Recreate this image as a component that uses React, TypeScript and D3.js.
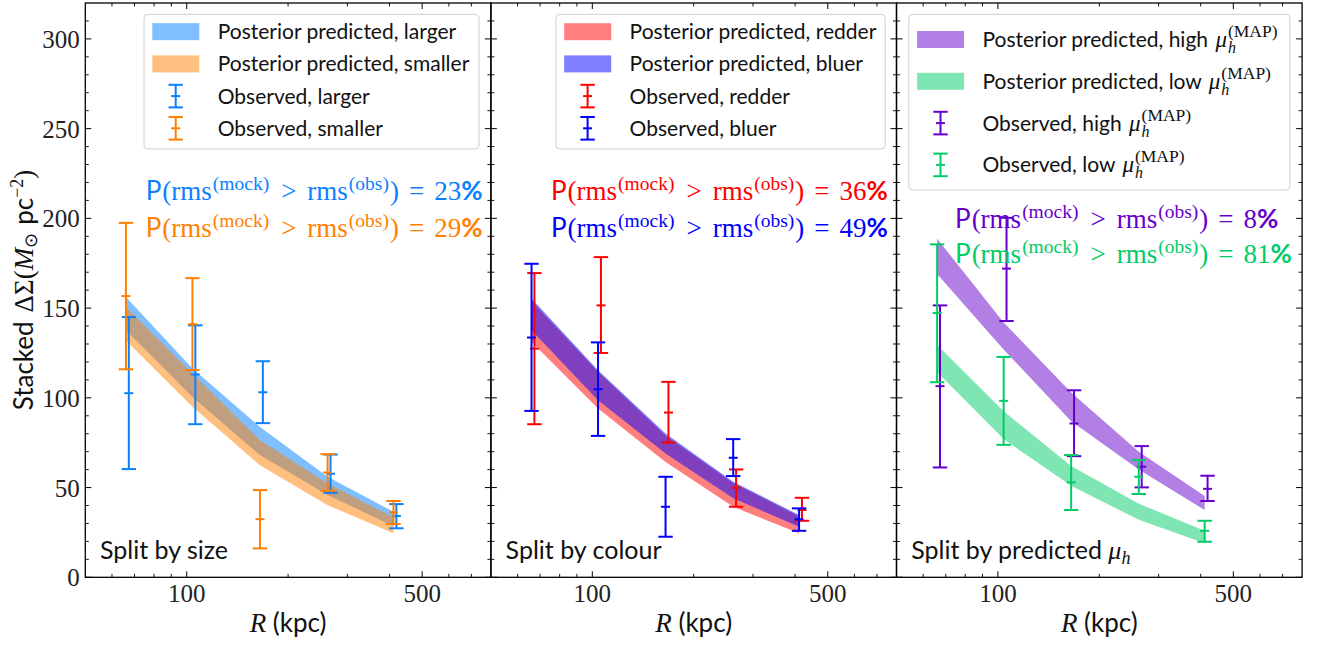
import React from 'react';
import * as d3 from 'd3';

// ---------- data ----------
const R_BINS = [66, 104, 165, 262, 411];
const SHIFT = 1.02; // small horizontal offset applied to the first observed series of each panel

const X_MAJOR = [100, 500];
const X_MINOR = [60, 70, 80, 90, 200, 300, 400, 600, 700];
const Y_MAJOR = [0, 50, 100, 150, 200, 250, 300];
const Y_MINOR = [10, 20, 30, 40, 60, 70, 80, 90, 110, 120, 130, 140, 160, 170, 180, 190, 210, 220, 230, 240, 260, 270, 280, 290, 310];

// Panel 1: split by size
const largerBandHi = [156.2, 116.3, 83.8, 56.0, 36.5];
const largerBandLo = [137.6, 100.5, 68.1, 45.8, 28.5];
const smallerBandHi = [150.6, 113.5, 76.4, 52.3, 33.4];
const smallerBandLo = [132.0, 95.0, 62.5, 40.2, 24.5];
const largerObs = [102.6, 113.0, 103.1, 57.7, 34.1];
const largerObsLo = [60.3, 85.3, 85.9, 47.1, 27.3];
const largerObsHi = [145.0, 140.4, 120.4, 68.4, 40.8];
const smallerObs = [156.7, 141.0, 32.4, 58.4, 36.2];
const smallerObsLo = [115.9, 115.5, 16.1, 48.2, 29.7];
const smallerObsHi = [197.5, 166.7, 48.6, 68.6, 42.5];

// Panel 2: split by colour
const redderBandHi = [154.0, 114.5, 79.0, 52.5, 34.0];
const redderBandLo = [131.1, 94.0, 64.3, 39.3, 24.5];
const bluerBandHi = [155.3, 115.4, 80.1, 53.2, 34.7];
const bluerBandLo = [137.6, 98.7, 69.0, 44.0, 28.2];
const redderObs = [127.4, 151.5, 91.8, 49.9, 37.5];
const redderObsLo = [85.3, 125.0, 75.1, 39.3, 31.5];
const redderObsHi = [169.5, 178.4, 108.9, 60.1, 44.3];
const bluerObs = [133.6, 104.8, 39.3, 66.6, 32.3];
const bluerObsLo = [92.7, 78.8, 22.6, 56.4, 25.9];
const bluerObsHi = [174.7, 130.9, 56.0, 77.0, 38.4];

// Panel 3: split by predicted mu_h
const highBandHi = [188.7, 142.0, 103.0, 70.0, 45.3];
const highBandLo = [169.0, 127.0, 87.0, 60.0, 37.5];
const lowBandHi = [129.5, 92.5, 62.0, 41.0, 26.0];
const lowBandLo = [114.4, 77.0, 51.0, 32.0, 19.0];
const highObs = [106.5, 172.0, 85.7, 61.6, 49.3];
const highObsLo = [61.2, 142.8, 67.5, 50.1, 42.5];
const highObsHi = [151.5, 200.3, 104.2, 73.1, 56.6];
const lowObs = [147.3, 98.3, 52.9, 56.0, 25.9];
const lowObsLo = [108.7, 73.8, 37.5, 46.4, 19.8];
const lowObsHi = [185.5, 122.8, 68.1, 65.3, 31.5];

const PROB = [[23, 29], [36, 49], [8, 81]];

// ---------- layout ----------
const W = 1322, H = 648;
const PANEL_W = 405.6;
const PANEL_LEFTS = [85.3, 490.9, 896.5];
const TOP = 3, BOTTOM = 577.3;
const SANS = 'Lato';
const SERIF = 'Liberation Serif';

const x = d3.scaleLog().domain([50, 800]).range([0, PANEL_W]);
const y = d3.scaleLinear().domain([0, 320]).range([BOTTOM, TOP]);

type Series = { color: string; label: any; mid: number[]; lo: number[]; hi: number[]; shift: number };
type Band = { color: string; label: any; lo: number[]; hi: number[] };

const muLabel = (prefix: string) => (
  <>
    <tspan>{prefix}</tspan>
    <tspan fontFamily={SERIF} fontStyle="italic" fontSize={23} dx={2}>μ</tspan>
    <tspan fontFamily={SERIF} fontStyle="italic" fontSize={16} dy={6} dx={1}>h</tspan>
    <tspan fontFamily={SERIF} fontSize={17.5} dx={-8} dy={-16}>(MAP)</tspan>
  </>
);

const panels = [
  {
    bands: [
      { color: '#0080ff', label: 'Posterior predicted, larger', lo: largerBandLo, hi: largerBandHi },
      { color: '#ff8000', label: 'Posterior predicted, smaller', lo: smallerBandLo, hi: smallerBandHi },
    ] as Band[],
    series: [
      { color: '#0a80ff', label: 'Observed, larger', mid: largerObs, lo: largerObsLo, hi: largerObsHi, shift: SHIFT },
      { color: '#ff8000', label: 'Observed, smaller', mid: smallerObs, lo: smallerObsLo, hi: smallerObsHi, shift: 1 },
    ] as Series[],
    title: <tspan>Split by size</tspan>,
    legend: { left: 58.7, width: 335, rowTop: 31.7, rowGap: 32.2, height: 134.7 },
    prob: { x: 60.4, y1: 200, y2: 236.7 },
  },
  {
    bands: [
      { color: '#ff0000', label: 'Posterior predicted, redder', lo: redderBandLo, hi: redderBandHi },
      { color: '#0000ff', label: 'Posterior predicted, bluer', lo: bluerBandLo, hi: bluerBandHi },
    ] as Band[],
    series: [
      { color: '#ff0000', label: 'Observed, redder', mid: redderObs, lo: redderObsLo, hi: redderObsHi, shift: SHIFT },
      { color: '#0000ff', label: 'Observed, bluer', mid: bluerObs, lo: bluerObsLo, hi: bluerObsHi, shift: 1 },
    ] as Series[],
    title: <tspan>Split by colour</tspan>,
    legend: { left: 65, width: 329.3, rowTop: 31.7, rowGap: 32.2, height: 134.7 },
    prob: { x: 60.1, y1: 200, y2: 236.7 },
  },
  {
    bands: [
      { color: '#6600cc', label: muLabel('Posterior predicted, high '), lo: highBandLo, hi: highBandHi },
      { color: '#00cc66', label: muLabel('Posterior predicted, low '), lo: lowBandLo, hi: lowBandHi },
    ] as Band[],
    series: [
      { color: '#6600cc', label: muLabel('Observed, high '), mid: highObs, lo: highObsLo, hi: highObsHi, shift: SHIFT },
      { color: '#00cc66', label: muLabel('Observed, low '), mid: lowObs, lo: lowObsLo, hi: lowObsHi, shift: 1 },
    ] as Series[],
    title: (
      <>
        <tspan>Split by predicted </tspan>
        <tspan fontFamily={SERIF} fontStyle="italic" fontSize={26}>μ</tspan>
        <tspan fontFamily={SERIF} fontStyle="italic" fontSize={18} dy={5}>h</tspan>
      </>
    ),
    legend: { left: 12.3, width: 381, rowTop: 39.5, rowGap: 41.8, height: 175.7 },
    prob: { x: 58.5, y1: 228.3, y2: 263.3 },
  },
];

function ErrorBar({ cx, ylo, yhi, ymid, color }: { cx: number; ylo: number; yhi: number; ymid: number; color: string }) {
  const cap = 7.2, mk = 4.5;
  return (
    <g stroke={color} strokeWidth={2} fill="none">
      <line x1={cx} x2={cx} y1={ylo} y2={yhi} />
      <line x1={cx - cap} x2={cx + cap} y1={ylo} y2={ylo} />
      <line x1={cx - cap} x2={cx + cap} y1={yhi} y2={yhi} />
      <line x1={cx - mk} x2={cx + mk} y1={ymid} y2={ymid} />
    </g>
  );
}

function ProbLine({ px, py, color, pct }: { px: number; py: number; color: string; pct: number }) {
  return (
    <text x={px} y={py} fill={color} fontSize={27} fontFamily={SERIF}>
      <tspan fontFamily={SANS} fontSize={26}>P</tspan>
      <tspan fontFamily={SERIF} dx={1}>(rms</tspan>
      <tspan fontFamily={SERIF} fontSize={19.5} dy={-10} dx={1}>(mock)</tspan>
      <tspan fontFamily={SERIF} dy={10} dx={12}>&gt;</tspan>
      <tspan fontFamily={SERIF} dx={11}>rms</tspan>
      <tspan fontFamily={SERIF} fontSize={19.5} dy={-10} dx={1}>(obs)</tspan>
      <tspan fontFamily={SERIF} dy={10} dx={1}>)</tspan>
      <tspan fontFamily={SERIF} dx={10}>=</tspan>
      <tspan fontFamily={SERIF} dx={10}>{pct}</tspan>
      <tspan fontFamily={SANS} fontSize={26} fontWeight="bold">%</tspan>
    </text>
  );
}

function Panel({ idx }: { idx: number }) {
  const p = panels[idx];
  const left = PANEL_LEFTS[idx];
  const area = d3
    .area<number>()
    .x((_, i) => x(R_BINS[i]))
    .y0((d) => y(d));
  const lg = p.legend;
  const legendItems = [
    ...p.bands.map((b) => ({ kind: 'band', color: b.color, label: b.label })),
    ...p.series.map((s) => ({ kind: 'err', color: s.color, label: s.label })),
  ];
  return (
    <g transform={`translate(${left},0)`}>
      {p.bands.map((b, bi) => (
        <path
          key={'b' + bi}
          d={area.y1((_, i) => y(b.hi[i]))(b.lo) || ''}
          fill={b.color}
          fillOpacity={0.5}
        />
      ))}
      {p.series.map((s, si) => (
        <g key={'s' + si}>
          {R_BINS.map((r, i) => (
            <ErrorBar key={i} cx={x(r * s.shift)} ylo={y(s.lo[i])} yhi={y(s.hi[i])} ymid={y(s.mid[i])} color={s.color} />
          ))}
        </g>
      ))}
      <rect x={0} y={TOP} width={PANEL_W} height={BOTTOM - TOP} fill="none" stroke="#000" strokeWidth={1.3} />
      {X_MAJOR.map((t) => (
        <g key={'xm' + t}>
          <line x1={x(t)} x2={x(t)} y1={BOTTOM} y2={BOTTOM - 6} stroke="#000" strokeWidth={1} />
          <line x1={x(t)} x2={x(t)} y1={TOP} y2={TOP + 6} stroke="#000" strokeWidth={1} />
          <text x={x(t)} y={601.5} textAnchor="middle" fontFamily={SERIF} fontSize={25} fill="#222">
            {t}
          </text>
        </g>
      ))}
      {X_MINOR.map((t) => (
        <g key={'xn' + t}>
          <line x1={x(t)} x2={x(t)} y1={BOTTOM} y2={BOTTOM - 3.5} stroke="#000" strokeWidth={0.9} />
          <line x1={x(t)} x2={x(t)} y1={TOP} y2={TOP + 3.5} stroke="#000" strokeWidth={0.9} />
        </g>
      ))}
      {Y_MAJOR.map((t) => (
        <g key={'ym' + t}>
          <line x1={0} x2={6} y1={y(t)} y2={y(t)} stroke="#000" strokeWidth={1} />
          <line x1={PANEL_W} x2={PANEL_W - 6} y1={y(t)} y2={y(t)} stroke="#000" strokeWidth={1} />
          {idx === 0 && (
            <text x={-5.5} y={y(t) + 9} textAnchor="end" fontFamily={SERIF} fontSize={25} fill="#222">
              {t}
            </text>
          )}
        </g>
      ))}
      {Y_MINOR.map((t) => (
        <g key={'yn' + t}>
          <line x1={0} x2={3.5} y1={y(t)} y2={y(t)} stroke="#000" strokeWidth={0.9} />
          <line x1={PANEL_W} x2={PANEL_W - 3.5} y1={y(t)} y2={y(t)} stroke="#000" strokeWidth={0.9} />
        </g>
      ))}
      <g>
        <rect
          x={lg.left}
          y={14.3}
          width={lg.width}
          height={lg.height}
          rx={4}
          fill="#fff"
          fillOpacity={0.8}
          stroke="#d0d0d0"
          strokeWidth={1}
        />
        {legendItems.map((it, i) => {
          const cy = lg.rowTop + i * lg.rowGap;
          return (
            <g key={'l' + i}>
              {it.kind === 'band' ? (
                <rect x={lg.left + 8.3} y={cy - 8.5} width={47} height={17} fill={it.color} fillOpacity={0.5} />
              ) : (
                <ErrorBar cx={lg.left + 31.7} ylo={cy + 11.3} yhi={cy - 11.3} ymid={cy} color={it.color} />
              )}
              <text x={lg.left + 73.7} y={cy + 7.5} fontFamily={SANS} fontSize={21} fill="#111">
                {it.label}
              </text>
            </g>
          );
        })}
      </g>
      <ProbLine px={p.prob.x} py={p.prob.y1} color={p.series[0].color} pct={PROB[idx][0]} />
      <ProbLine px={p.prob.x} py={p.prob.y2} color={p.series[1].color} pct={PROB[idx][1]} />
      <text x={14.7} y={559} fontFamily={SANS} fontSize={25} fill="#111">
        {p.title}
      </text>
      <text x={PANEL_W / 2} y={632} textAnchor="middle" fontSize={26} fill="#111">
        <tspan fontFamily={SERIF} fontStyle="italic" fontSize={27}>R</tspan>
        <tspan fontFamily={SANS}> (kpc)</tspan>
      </text>
    </g>
  );
}

export default function App() {
  return (
    <svg
      width={W}
      height={H}
      style={{ position: 'absolute', left: 0, top: 0, background: '#fff' }}
      xmlns="http://www.w3.org/2000/svg"
    >
      <rect x={0} y={0} width={W} height={H} fill="#fff" />
      {[0, 1, 2].map((i) => (
        <Panel key={i} idx={i} />
      ))}
      <text transform="translate(33,290) rotate(-90)" textAnchor="middle" fontSize={26} fill="#111">
        <tspan fontFamily={SANS}>Stacked</tspan>
        <tspan fontFamily={SERIF} fontSize={27} dx={9}>ΔΣ(</tspan>
        <tspan fontFamily={SERIF} fontSize={27} fontStyle="italic">M</tspan>
        <tspan fontFamily={SERIF} fontSize={18} dy={4}>⊙</tspan>
        <tspan fontFamily={SANS} dy={-4} dx={8}>pc</tspan>
        <tspan fontFamily={SERIF} fontSize={18} dy={-10}>−2</tspan>
        <tspan fontFamily={SERIF} fontSize={27} dy={10}>)</tspan>
      </text>
    </svg>
  );
}
